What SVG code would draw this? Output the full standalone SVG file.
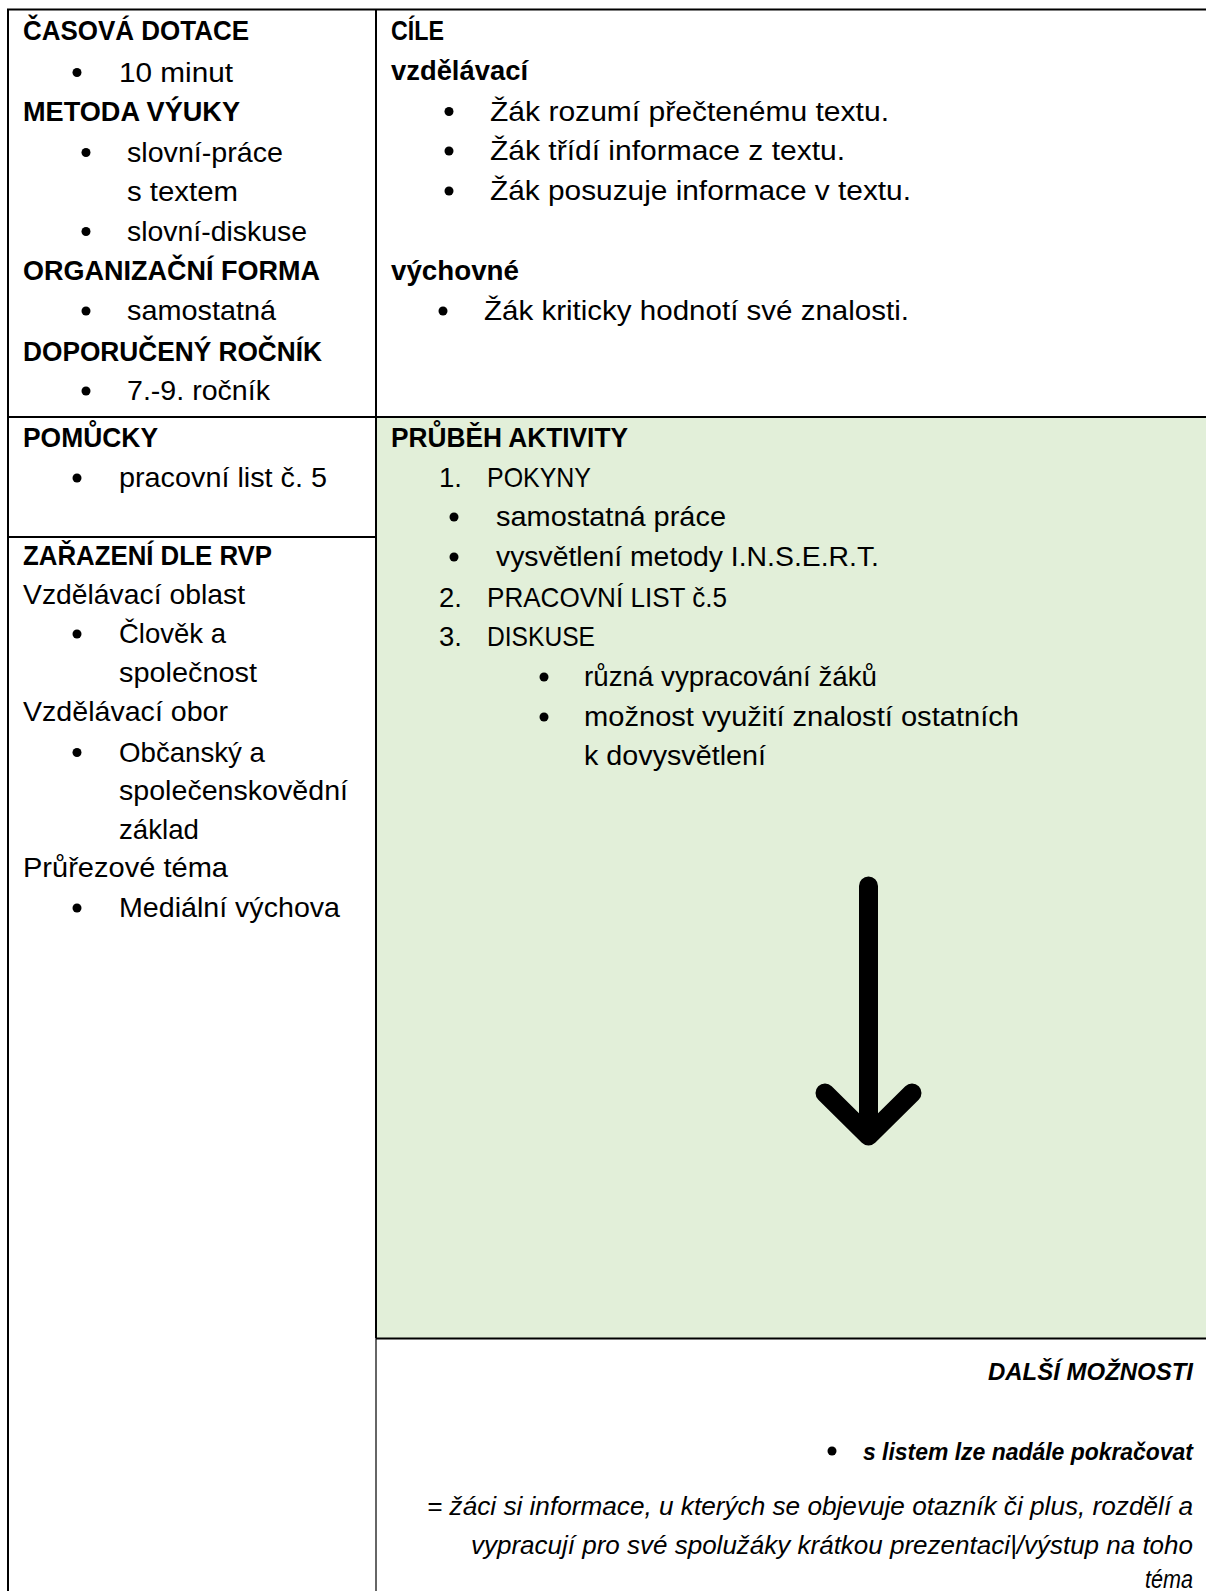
<svg xmlns="http://www.w3.org/2000/svg" width="1206" height="1591" viewBox="0 0 1206 1591">
<style>
text{font-family:"Liberation Sans",Arial,sans-serif;font-size:27.5px;fill:#000}
.b{font-weight:bold}
.bi{font-weight:bold;font-style:italic;font-size:24px}
.i{font-style:italic;font-size:26px}
.e{text-anchor:end}
.ln{stroke:#000;stroke-width:2;fill:none}
.dot{fill:#000}
</style>
<rect width="1206" height="1591" fill="#fff"/>
<rect x="377" y="418" width="829" height="920" fill="#E2EFD9"/>
<g id="grid">
<line class="ln" x1="7" y1="9.5" x2="1206" y2="9.5"/>
<line class="ln" x1="8" y1="9" x2="8" y2="1591"/>
<line class="ln" x1="376" y1="9" x2="376" y2="1338"/>
<line x1="376" y1="1338" x2="376" y2="1591" stroke="#333" stroke-width="1.5"/>
<line class="ln" x1="7" y1="417" x2="1206" y2="417"/>
<line class="ln" x1="7" y1="537" x2="376" y2="537"/>
<line class="ln" x1="376" y1="1338.5" x2="1206" y2="1338.5"/>
</g>
<g id="cell-casova">
<text class="b" x="23" y="40" textLength="226" lengthAdjust="spacingAndGlyphs">ČASOVÁ DOTACE</text>
<circle class="dot" cx="77" cy="72.5" r="4.5"/>
<text x="119" y="81.5" textLength="114" lengthAdjust="spacingAndGlyphs">10 minut</text>
<text class="b" x="23" y="120.5" textLength="217" lengthAdjust="spacingAndGlyphs">METODA VÝUKY</text>
<circle class="dot" cx="86" cy="152.5" r="4.5"/>
<text x="127" y="161.5" textLength="156" lengthAdjust="spacingAndGlyphs">slovní-práce</text>
<text x="127" y="200.5" textLength="111" lengthAdjust="spacingAndGlyphs">s textem</text>
<circle class="dot" cx="86" cy="231.5" r="4.5"/>
<text x="127" y="240.5" textLength="180" lengthAdjust="spacingAndGlyphs">slovní-diskuse</text>
<text class="b" x="23" y="280" textLength="297" lengthAdjust="spacingAndGlyphs">ORGANIZAČNÍ FORMA</text>
<circle class="dot" cx="86" cy="311" r="4.5"/>
<text x="127" y="320" textLength="149" lengthAdjust="spacingAndGlyphs">samostatná</text>
<text class="b" x="23" y="360.5" textLength="299" lengthAdjust="spacingAndGlyphs">DOPORUČENÝ ROČNÍK</text>
<circle class="dot" cx="86" cy="391" r="4.5"/>
<text x="127" y="400" textLength="143" lengthAdjust="spacingAndGlyphs">7.-9. ročník</text>
</g>
<g id="cell-cile">
<text class="b" x="391" y="40" textLength="53" lengthAdjust="spacingAndGlyphs">CÍLE</text>
<text class="b" x="391" y="80" textLength="137" lengthAdjust="spacingAndGlyphs">vzdělávací</text>
<circle class="dot" cx="449" cy="111.5" r="4.5"/>
<text x="490" y="120.5" textLength="399" lengthAdjust="spacingAndGlyphs">Žák rozumí přečtenému textu.</text>
<circle class="dot" cx="449" cy="151" r="4.5"/>
<text x="490" y="160" textLength="355" lengthAdjust="spacingAndGlyphs">Žák třídí informace z textu.</text>
<circle class="dot" cx="449" cy="191" r="4.5"/>
<text x="490" y="200" textLength="421" lengthAdjust="spacingAndGlyphs">Žák posuzuje informace v textu.</text>
<text class="b" x="391" y="280" textLength="128" lengthAdjust="spacingAndGlyphs">výchovné</text>
<circle class="dot" cx="443" cy="311" r="4.5"/>
<text x="484" y="320" textLength="425" lengthAdjust="spacingAndGlyphs">Žák kriticky hodnotí své znalosti.</text>
</g>
<g id="cell-pomucky">
<text class="b" x="23" y="447" textLength="135" lengthAdjust="spacingAndGlyphs">POMŮCKY</text>
<circle class="dot" cx="77" cy="478" r="4.5"/>
<text x="119" y="487" textLength="208" lengthAdjust="spacingAndGlyphs">pracovní list č. 5</text>
</g>
<g id="cell-zarazeni">
<text class="b" x="23" y="565" textLength="249" lengthAdjust="spacingAndGlyphs">ZAŘAZENÍ DLE RVP</text>
<text x="23" y="603.5" textLength="222" lengthAdjust="spacingAndGlyphs">Vzdělávací oblast</text>
<circle class="dot" cx="77" cy="634" r="4.5"/>
<text x="119" y="643" textLength="107" lengthAdjust="spacingAndGlyphs">Člověk a</text>
<text x="119" y="682" textLength="138" lengthAdjust="spacingAndGlyphs">společnost</text>
<text x="23" y="721" textLength="205" lengthAdjust="spacingAndGlyphs">Vzdělávací obor</text>
<circle class="dot" cx="77" cy="752.5" r="4.5"/>
<text x="119" y="761.5" textLength="146" lengthAdjust="spacingAndGlyphs">Občanský a</text>
<text x="119" y="800" textLength="229" lengthAdjust="spacingAndGlyphs">společenskovědní</text>
<text x="119" y="838.5" textLength="80" lengthAdjust="spacingAndGlyphs">základ</text>
<text x="23" y="877" textLength="205" lengthAdjust="spacingAndGlyphs">Průřezové téma</text>
<circle class="dot" cx="77" cy="908" r="4.5"/>
<text x="119" y="917" textLength="221" lengthAdjust="spacingAndGlyphs">Mediální výchova</text>
</g>
<g id="cell-prubeh">
<text class="b" x="391" y="447" textLength="237" lengthAdjust="spacingAndGlyphs">PRŮBĚH AKTIVITY</text>
<text x="439" y="487">1.</text>
<text x="487" y="487" textLength="104" lengthAdjust="spacingAndGlyphs">POKYNY</text>
<circle class="dot" cx="454" cy="517" r="4.5"/>
<text x="496" y="526" textLength="230" lengthAdjust="spacingAndGlyphs">samostatná práce</text>
<circle class="dot" cx="454" cy="557" r="4.5"/>
<text x="496" y="566" textLength="383" lengthAdjust="spacingAndGlyphs">vysvětlení metody I.N.S.E.R.T.</text>
<text x="439" y="607">2.</text>
<text x="487" y="607" textLength="240" lengthAdjust="spacingAndGlyphs">PRACOVNÍ LIST č.5</text>
<text x="439" y="646">3.</text>
<text x="487" y="646" textLength="108" lengthAdjust="spacingAndGlyphs">DISKUSE</text>
<circle class="dot" cx="544" cy="677" r="4.5"/>
<text x="584" y="686" textLength="293" lengthAdjust="spacingAndGlyphs">různá vypracování žáků</text>
<circle class="dot" cx="544" cy="717" r="4.5"/>
<text x="584" y="726" textLength="435" lengthAdjust="spacingAndGlyphs">možnost využití znalostí ostatních</text>
<text x="584" y="765" textLength="182" lengthAdjust="spacingAndGlyphs">k dovysvětlení</text>
</g>
<g id="arrow">
<path d="M868.5 886 V1135 M825 1093 L868.5 1136 L912 1093" stroke="#000" stroke-width="19" stroke-linecap="round" stroke-linejoin="round" fill="none"/>
</g>
<g id="cell-dalsi">
<text class="bi e" x="1193" y="1380" textLength="205" lengthAdjust="spacingAndGlyphs">DALŠÍ MOŽNOSTI</text>
<circle class="dot" cx="832" cy="1451" r="4.5"/>
<text class="bi e" x="1193" y="1460" textLength="330" lengthAdjust="spacingAndGlyphs">s listem lze nadále pokračovat</text>
<text class="i e" x="1193" y="1515" textLength="766" lengthAdjust="spacingAndGlyphs">= žáci si informace, u kterých se objevuje otazník či plus, rozdělí a</text>
<text class="i e" x="1193" y="1554" textLength="722" lengthAdjust="spacingAndGlyphs">vypracují pro své spolužáky krátkou prezentaci|/výstup na toho</text>
<text class="i e" x="1193" y="1588" textLength="48" lengthAdjust="spacingAndGlyphs">téma</text>
</g>
</svg>
